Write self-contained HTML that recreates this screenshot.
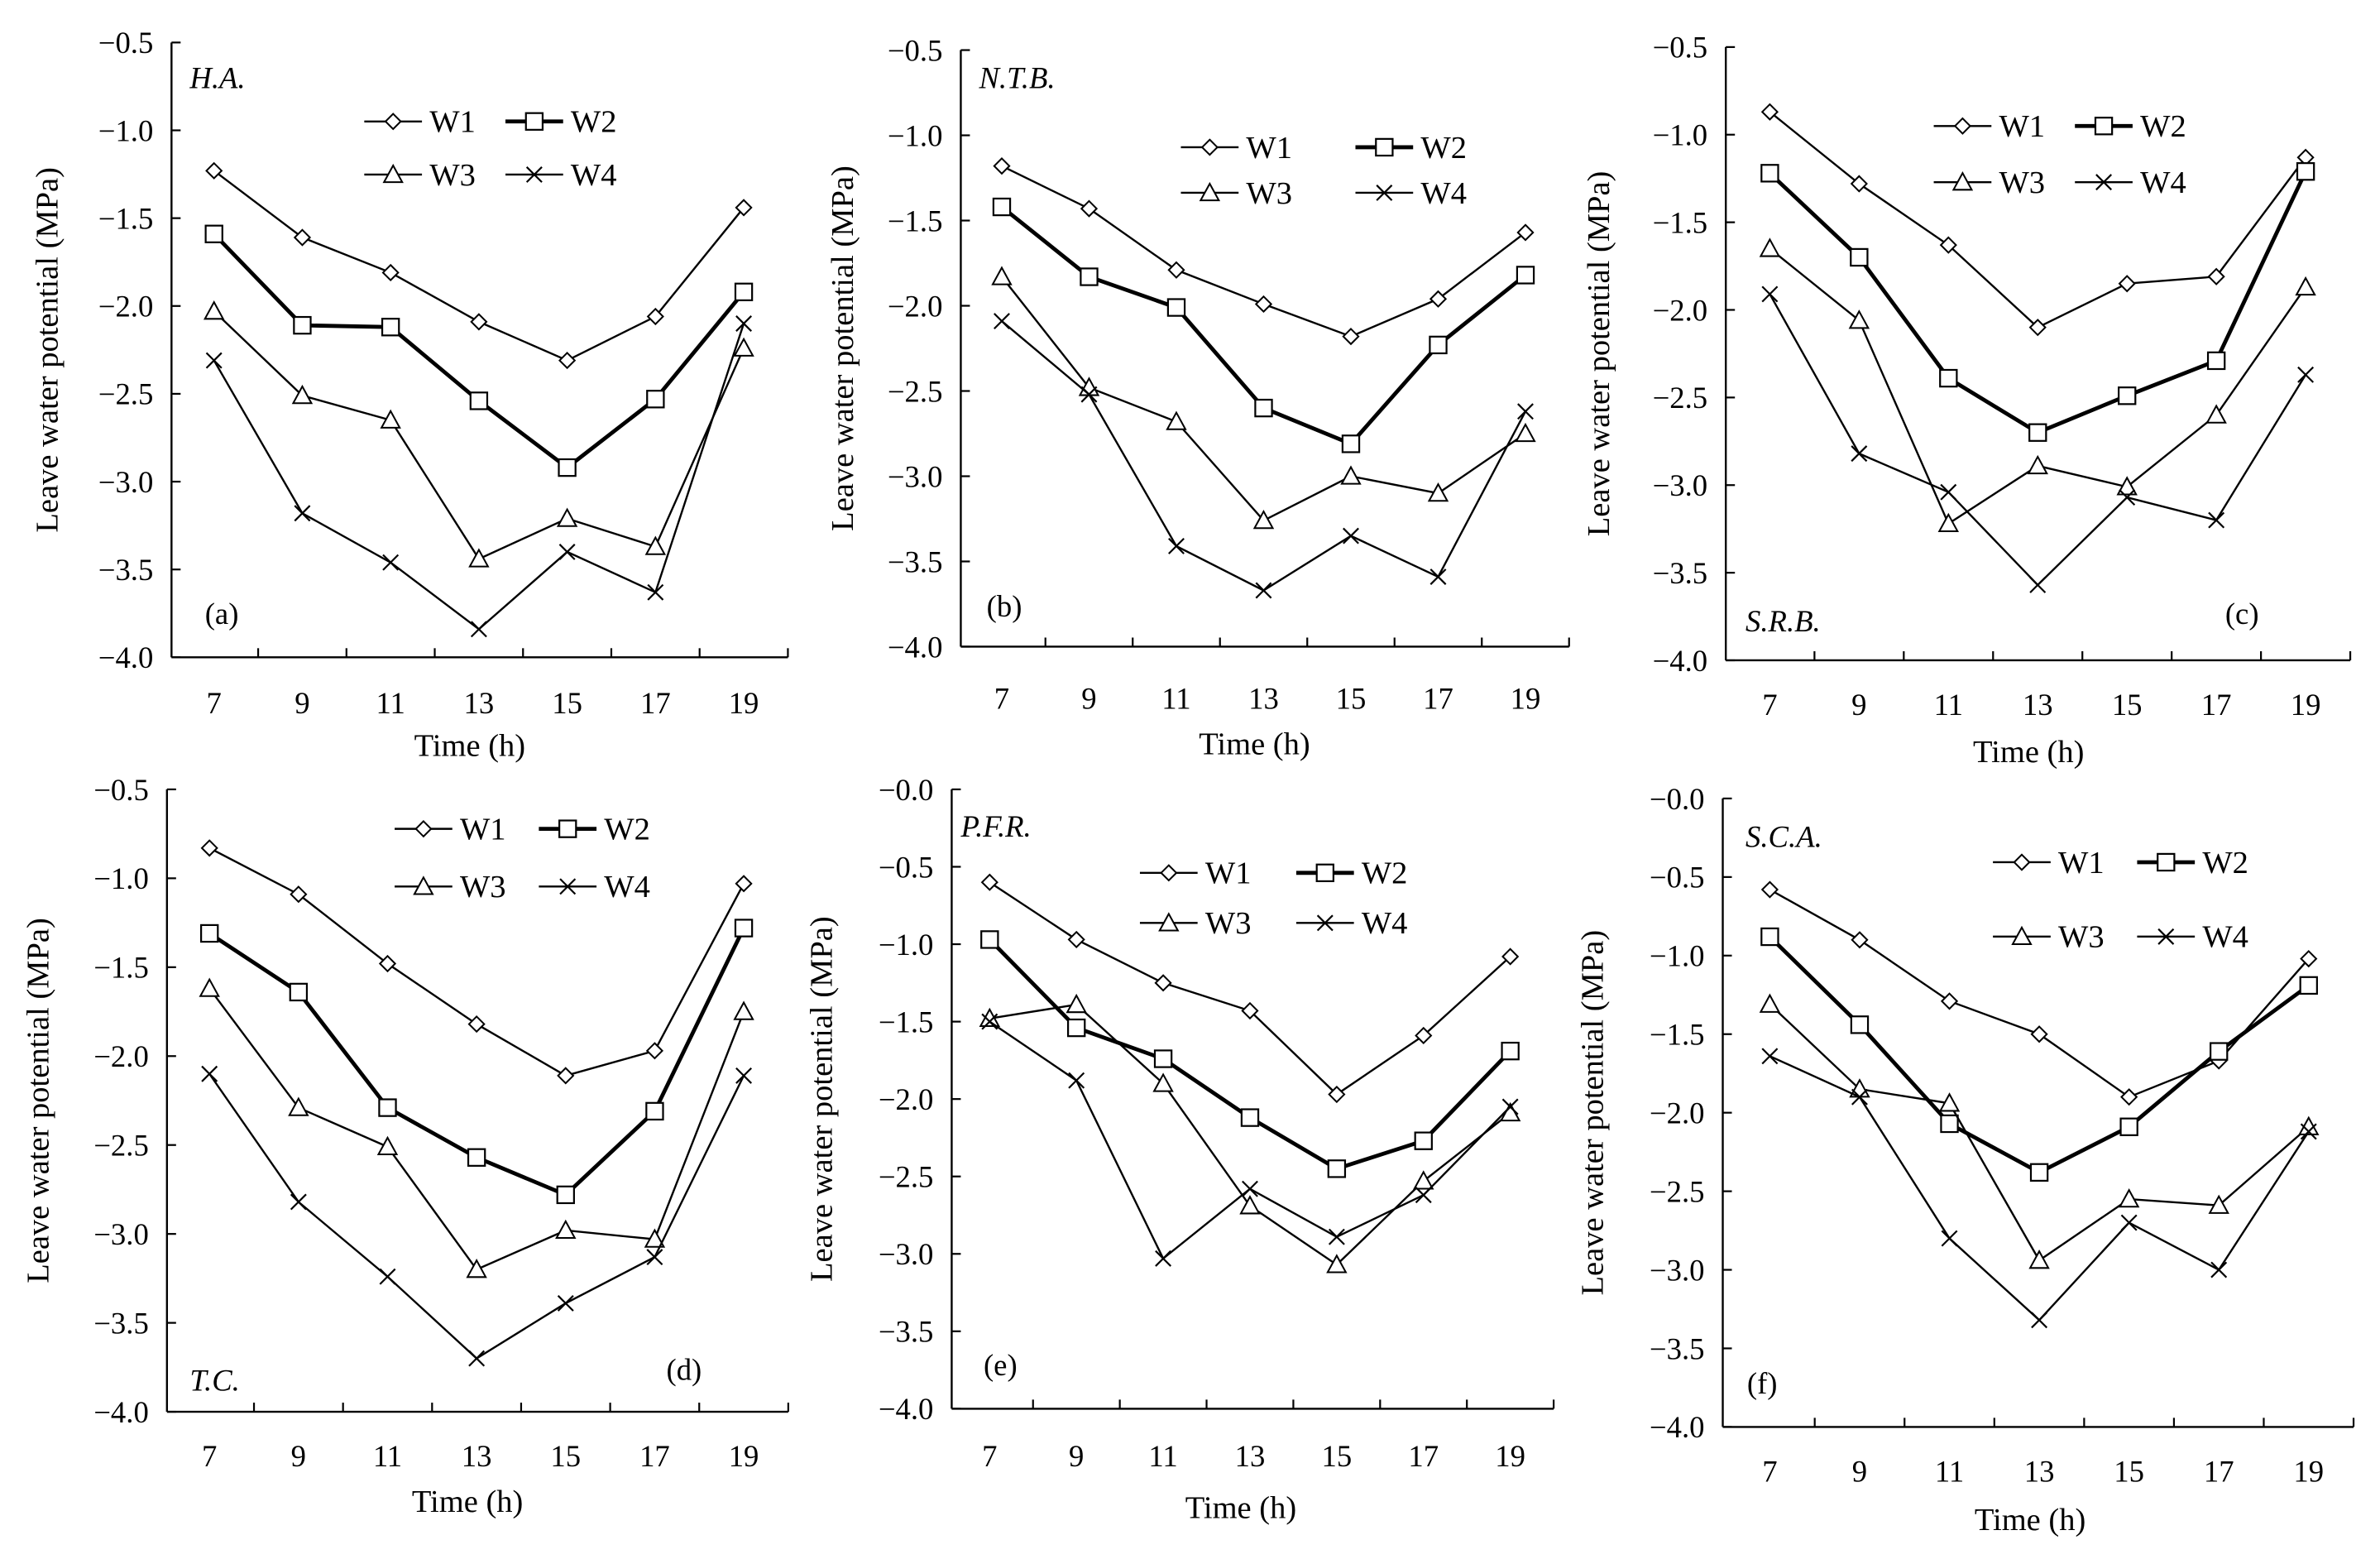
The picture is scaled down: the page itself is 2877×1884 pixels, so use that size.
<!DOCTYPE html>
<html><head><meta charset="utf-8"><style>
html,body{margin:0;padding:0;background:#fff;}
svg, svg text{font-family:"Liberation Serif","DejaVu Serif","Times New Roman",serif;}
svg{display:block;}
</style></head><body>
<svg id="fig" width="2877" height="1884" viewBox="0 0 1568 1027" preserveAspectRatio="none" xmlns="http://www.w3.org/2000/svg" font-family="Liberation Serif, DejaVu Serif, serif"></svg>
<script>
const hours = [7,9,11,13,15,17,19];
const seriesNames = ["W1","W2","W3","W4"];
const aW1=[-1.23,-1.61,-1.81,-2.09,-2.31,-2.06,-1.44];
const aW2=[-1.59,-2.11,-2.12,-2.54,-2.92,-2.53,-1.92];
const aW3=[-2.03,-2.51,-2.65,-3.44,-3.21,-3.37,-2.24];
const aW4=[-2.31,-3.18,-3.46,-3.84,-3.40,-3.63,-2.10];
const bW1=[-1.18,-1.43,-1.79,-1.99,-2.18,-1.96,-1.57];
const bW2=[-1.42,-1.83,-2.01,-2.60,-2.81,-2.23,-1.82];
const bW3=[-1.83,-2.48,-2.68,-3.26,-3.00,-3.10,-2.75];
const bW4=[-2.09,-2.52,-3.41,-3.67,-3.35,-3.59,-2.62];
const cW1=[-0.87,-1.28,-1.63,-2.10,-1.85,-1.81,-1.13];
const cW2=[-1.22,-1.70,-2.39,-2.70,-2.49,-2.29,-1.21];
const cW3=[-1.65,-2.06,-3.22,-2.89,-3.01,-2.60,-1.87];
const cW4=[-1.91,-2.82,-3.04,-3.57,-3.07,-3.20,-2.37];
const dW1=[-0.83,-1.09,-1.48,-1.82,-2.11,-1.97,-1.03];
const dW2=[-1.31,-1.64,-2.29,-2.57,-2.78,-2.31,-1.28];
const dW3=[-1.62,-2.29,-2.51,-3.20,-2.98,-3.03,-1.75];
const dW4=[-2.10,-2.82,-3.24,-3.70,-3.39,-3.13,-2.11];
const eW1=[-0.60,-0.97,-1.25,-1.43,-1.97,-1.59,-1.08];
const eW2=[-0.97,-1.54,-1.74,-2.12,-2.45,-2.27,-1.69];
const eW3=[-1.48,-1.39,-1.90,-2.69,-3.07,-2.53,-2.09];
const eW4=[-1.50,-1.88,-3.03,-2.58,-2.89,-2.62,-2.05];
const fW1=[-0.58,-0.90,-1.29,-1.50,-1.90,-1.67,-1.02];
const fW2=[-0.88,-1.44,-2.07,-2.38,-2.09,-1.61,-1.19];
const fW3=[-1.31,-1.85,-1.94,-2.94,-2.55,-2.59,-2.09];
const fW4=[-1.64,-1.90,-2.80,-3.32,-2.70,-3.00,-2.12];
const yTicksA=["−0.5","−1.0","−1.5","−2.0","−2.5","−3.0","−3.5","−4.0"];
const yTicksB=["−0.0","−0.5","−1.0","−1.5","−2.0","−2.5","−3.0","−3.5","−4.0"];

const NS="http://www.w3.org/2000/svg";
const svg=document.getElementById('fig');
const FF="Liberation Serif, DejaVu Serif, serif";
function mk(tag,attrs,parent){const e=document.createElementNS(NS,tag);for(const k in attrs)e.setAttribute(k,attrs[k]);if(tag==='text')e.setAttribute('font-family',FF);(parent||svg).appendChild(e);return e;}

const panels=[
 {id:"a",ax:113,top:28,bot:433,ymax:-0.5,ticks:yTicksA,x0:141,x1:490,data:[aW1,aW2,aW3,aW4],lab:"H.A.",labXY:[125,58],tag:"(a)",tagXY:[135,411],legX:240,legY:[80,115],legDX:93,tickY:470,timeY:498,ylabX:38},
 {id:"b",ax:633,top:33,bot:426,ymax:-0.5,ticks:yTicksA,x0:660,x1:1005,data:[bW1,bW2,bW3,bW4],lab:"N.T.B.",labXY:[645,58],tag:"(b)",tagXY:[650,406],legX:778,legY:[97,127],legDX:115,tickY:467,timeY:497,ylabX:562},
 {id:"c",ax:1137,top:31,bot:435,ymax:-0.5,ticks:yTicksA,x0:1166,x1:1519,data:[cW1,cW2,cW3,cW4],lab:"S.R.B.",labXY:[1150,416],tag:"(c)",tagXY:[1466,411],legX:1274,legY:[83,120],legDX:93,tickY:471,timeY:502,ylabX:1060},
 {id:"d",ax:110,top:520,bot:930,ymax:-0.5,ticks:yTicksA,x0:138,x1:490,data:[dW1,dW2,dW3,dW4],lab:"T.C.",labXY:[125,916],tag:"(d)",tagXY:[439,909],legX:260,legY:[546,584],legDX:95,tickY:966,timeY:996,ylabX:32},
 {id:"e",ax:627,top:520,bot:928,ymax:0,ticks:yTicksB,x0:652,x1:995,data:[eW1,eW2,eW3,eW4],lab:"P.F.R.",labXY:[633,551],tag:"(e)",tagXY:[648,906],legX:751,legY:[575,608],legDX:103,tickY:966,timeY:1000,ylabX:548},
 {id:"f",ax:1135,top:526,bot:940,ymax:0,ticks:yTicksB,x0:1166,x1:1521,data:[fW1,fW2,fW3,fW4],lab:"S.C.A.",labXY:[1150,558],tag:"(f)",tagXY:[1151,918],legX:1313,legY:[568,617],legDX:95,tickY:976,timeY:1008,ylabX:1056}
];

function marker(g,kind,x,y,name){
 let e;
 if(kind===0)e=mk('path',{d:`M${x} ${y-5}L${x+5} ${y}L${x} ${y+5}L${x-5} ${y}Z`,fill:'#fff',stroke:'#000','stroke-width':1.1},g);
 else if(kind===1)e=mk('rect',{x:x-5.5,y:y-5.5,width:11,height:11,fill:'#fff',stroke:'#000','stroke-width':1.2},g);
 else if(kind===2)e=mk('path',{d:`M${x} ${y-6}L${x+6} ${y+5}L${x-6} ${y+5}Z`,fill:'#fff',stroke:'#000','stroke-width':1.1},g);
 else e=mk('path',{d:`M${x-5} ${y-5}L${x+5} ${y+5}M${x-5} ${y+5}L${x+5} ${y-5}`,fill:'none',stroke:'#000','stroke-width':1.2},g);
 
 
}

panels.forEach(p=>{
 const g=mk('g',{});
 
 
 const step=(p.x1-p.x0)/(hours.length-1);
 const xs=i=>p.x0+i*step;
 const ymin=-4.0;
 const ys=v=>p.top+(p.ymax-v)/(p.ymax-ymin)*(p.bot-p.top);
 const right=p.x0+(hours.length-0.5)*step;
 const ya=mk('line',{x1:p.ax,y1:p.top,x2:p.ax,y2:p.bot,stroke:'#000','stroke-width':1.3},g);
 
 const xa=mk('line',{x1:p.ax,y1:p.bot,x2:right,y2:p.bot,stroke:'#000','stroke-width':1.3},g);
 
 p.ticks.forEach((t,i)=>{
  const v=p.ymax-0.5*i;const y=ys(v);
  mk('line',{x1:p.ax,y1:y,x2:p.ax+6,y2:y,stroke:'#000','stroke-width':1.2},g);
  const tx=mk('text',{x:p.ax-12,y:y+7,'text-anchor':'end','font-size':20},g);
  tx.textContent=t;
  
 });
 for(let i=1;i<=hours.length;i++){
  const x=p.x0+(i-0.5)*step;
  mk('line',{x1:x,y1:p.bot,x2:x,y2:p.bot-6,stroke:'#000','stroke-width':1.2},g);
 }
 hours.forEach((h,i)=>{
  const tx=mk('text',{x:xs(i),y:p.tickY,'text-anchor':'middle','font-size':20},g);
  tx.textContent=h;
  
 });
 const tt=mk('text',{x:(p.x0+p.x1)/2-6,y:p.timeY,'text-anchor':'middle','font-size':21},g);
 tt.textContent='Time (h)';
 
 const cy=(p.top+p.bot)/2;
 const yl=mk('text',{x:p.ylabX,y:cy,'text-anchor':'middle','font-size':21,transform:`rotate(-90 ${p.ylabX} ${cy})`},g);
 yl.textContent='Leave water potential (MPa)';
 
 const lb=mk('text',{x:p.labXY[0],y:p.labXY[1],'font-size':20,'font-style':'italic'},g);
 lb.textContent=p.lab;
 
 const tg=mk('text',{x:p.tagXY[0],y:p.tagXY[1],'font-size':20},g);
 tg.textContent=p.tag;
 
 p.data.forEach((arr,s)=>{
  const pts=arr.map((v,i)=>`${xs(i)},${ys(v)}`).join(' ');
  const pl=mk('polyline',{points:pts,fill:'none',stroke:'#000','stroke-width':s===1?2.6:1.3},g);
  
  
  arr.forEach((v,i)=>marker(g,s,xs(i),ys(v),'point-'+seriesNames[s].toLowerCase()));
 });
 seriesNames.forEach((n,s)=>{
  const col=s%2,row=Math.floor(s/2);
  const lx=p.legX+col*p.legDX;const ly=p.legY[row];
  const lg=mk('g',{},g);
  
  
  mk('line',{x1:lx,y1:ly,x2:lx+38,y2:ly,stroke:'#000','stroke-width':s===1?2.6:1.3},lg);
  marker(lg,s,lx+19,ly,'legend-marker');
  const t=mk('text',{x:lx+43,y:ly+7,'font-size':21},lg);
  t.textContent=n;
 });
});
</script>
</body></html>
